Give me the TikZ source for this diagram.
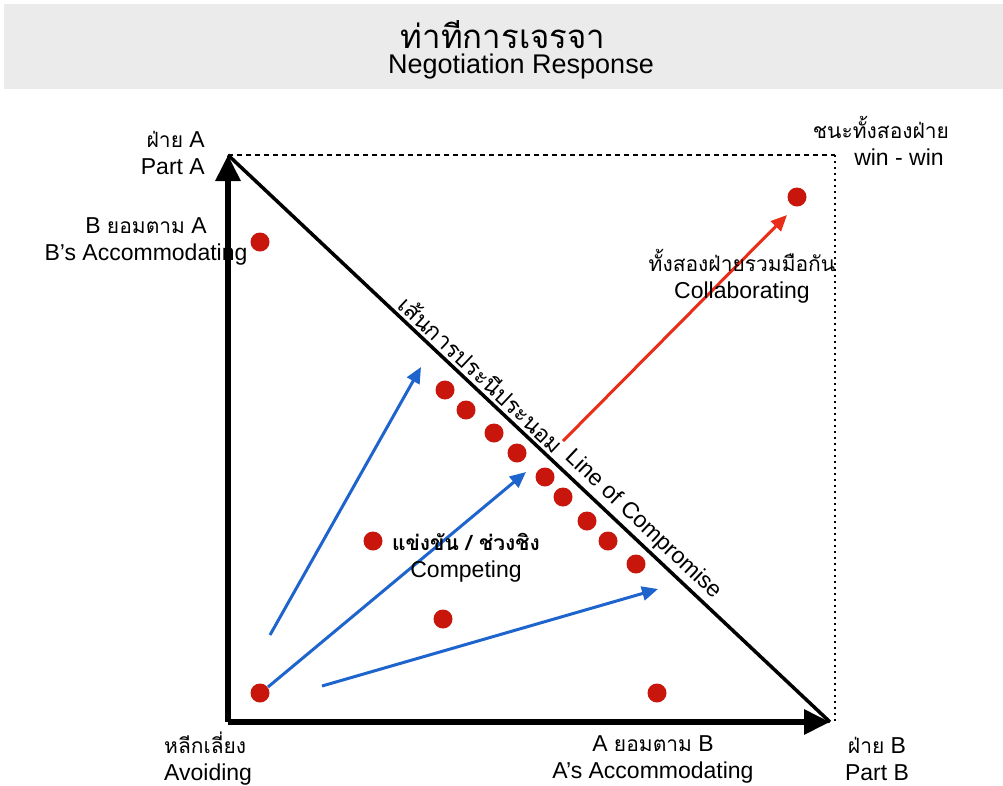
\documentclass[tikz,border=0pt]{standalone}
\usepackage{fontspec}
\setmainfont{Liberation Sans}
\newfontfamily\thai[Script=Thai]{Loma}
\usetikzlibrary{arrows.meta}
\definecolor{dotred}{RGB}{200,22,12}
\definecolor{arrblue}{RGB}{30,100,205}
\definecolor{arrred}{RGB}{232,45,25}
\definecolor{bargray}{RGB}{235,235,235}
\newcommand{\thtxt}[1]{{\thai\fontsize{21}{27}\selectfont #1}}
\begin{document}
\begin{tikzpicture}[x=1pt,y=-1pt,
  dot/.style={circle, fill=dotred, inner sep=0pt, minimum size=19pt},
  lbl/.style={align=center, inner sep=0pt, font=\fontsize{23}{27}\selectfont},
  axis/.style={draw=black, line width=6pt, -{Triangle[length=26pt,width=24pt]}},
  barrow/.style={draw=arrblue, line width=3pt, -{Triangle[length=16pt,width=14pt]}},
  rarrow/.style={draw=arrred, line width=3pt, -{Triangle[length=16pt,width=14pt]}},
  diag/.style={draw=black, line width=3.5pt},
  difont/.style={font=\fontsize{23}{26}\selectfont, inner sep=3pt}]
\useasboundingbox (0,0) rectangle (1003,785);
% title bar
\fill[bargray] (4,4) rectangle (1003,89);
\node[inner sep=0pt] (title1) at (503,35) {\fontsize{33}{36}\selectfont\thai ท่าทีการเจรจา};
\node[inner sep=0pt] (title2) at (521,67) {\fontsize{27}{30}\selectfont Negotiation Response};
% corners
\coordinate (O) at (228,722);
\coordinate (A) at (228,155);
\coordinate (B) at (830,722);
\coordinate (W) at (835,155);
\coordinate (WB) at (835,722);
% dotted frame
\draw[line width=2pt, dash pattern=on 5pt off 4pt] (A) -- (W);
\draw[line width=2.5pt, dash pattern=on 2pt off 4pt] (W) -- (WB);
% axes
\draw[axis] (O) -- (A);
\draw[axis] (O) -- (B);
\draw[diag] (A) -- (B)
  node[sloped, above, pos=0.405, difont] (lcth) {\thai เส้นการประนีประนอม}
  node[sloped, above, pos=0.672, difont] (lcen) {Line of Compromise};
% dots
\node[dot] (dBA) at (260,242) {};
\node[dot] (dWW) at (797,197) {};
\node[dot] (c1) at (445,390) {};
\node[dot] (c2) at (466,410) {};
\node[dot] (c3) at (494,433) {};
\node[dot] (c4) at (517,453) {};
\node[dot] (c5) at (545,477) {};
\node[dot] (c6) at (563,497) {};
\node[dot] (c7) at (587,521) {};
\node[dot] (c8) at (608,541) {};
\node[dot] (c9) at (636,564) {};
\node[dot] (dComp) at (373,541) {};
\node[dot] (dMid) at (443,619) {};
\node[dot] (dAv) at (260,693) {};
\node[dot] (dAB) at (657,693) {};
% blue arrows
\coordinate (b1s) at (270,635); \coordinate (b1e) at (421,367);
\coordinate (b2s) at (268,687); \coordinate (b2e) at (526,472);
\coordinate (b3s) at (322,686); \coordinate (b3e) at (658,589);
\draw[barrow] (b1s) -- (b1e);
\draw[barrow] (b2s) -- (b2e);
\draw[barrow] (b3s) -- (b3e);
% red arrow
\coordinate (r1s) at (563,441); \coordinate (r1e) at (787,215);
\draw[rarrow] (r1s) -- (r1e);
% labels
\node[lbl, anchor=east, align=right] (lPA) at (205,153) {\thtxt{ฝ่าย} A\\Part A};
\node[lbl] (lBA) at (146,241) {B \thtxt{ยอมตาม} A\\B’s Accommodating};
\node[lbl] (lWW) at (881,141) {\thtxt{ชนะทั้งสองฝ่าย}\\\hspace*{36pt}win - win};
\node[lbl] (lCo) at (742,276) {\thtxt{ทั้งสองฝ่ายรวมมือกัน}\\Collaborating};
\node[lbl] (lCp) at (466,558) {{\thai\bfseries\fontsize{21}{27}\selectfont แข่งขัน / ช่วงชิง}\\Competing};
\node[lbl, anchor=west, align=left] (lAv) at (164,759) {\thtxt{หลีกเลี่ยง}\\Avoiding};
\node[lbl] (lAB) at (653,759) {A \thtxt{ยอมตาม} B\\A’s Accommodating};
\node[lbl] (lPB) at (877,759) {\thtxt{ฝ่าย} B\\Part B};
\end{tikzpicture}
\end{document}
